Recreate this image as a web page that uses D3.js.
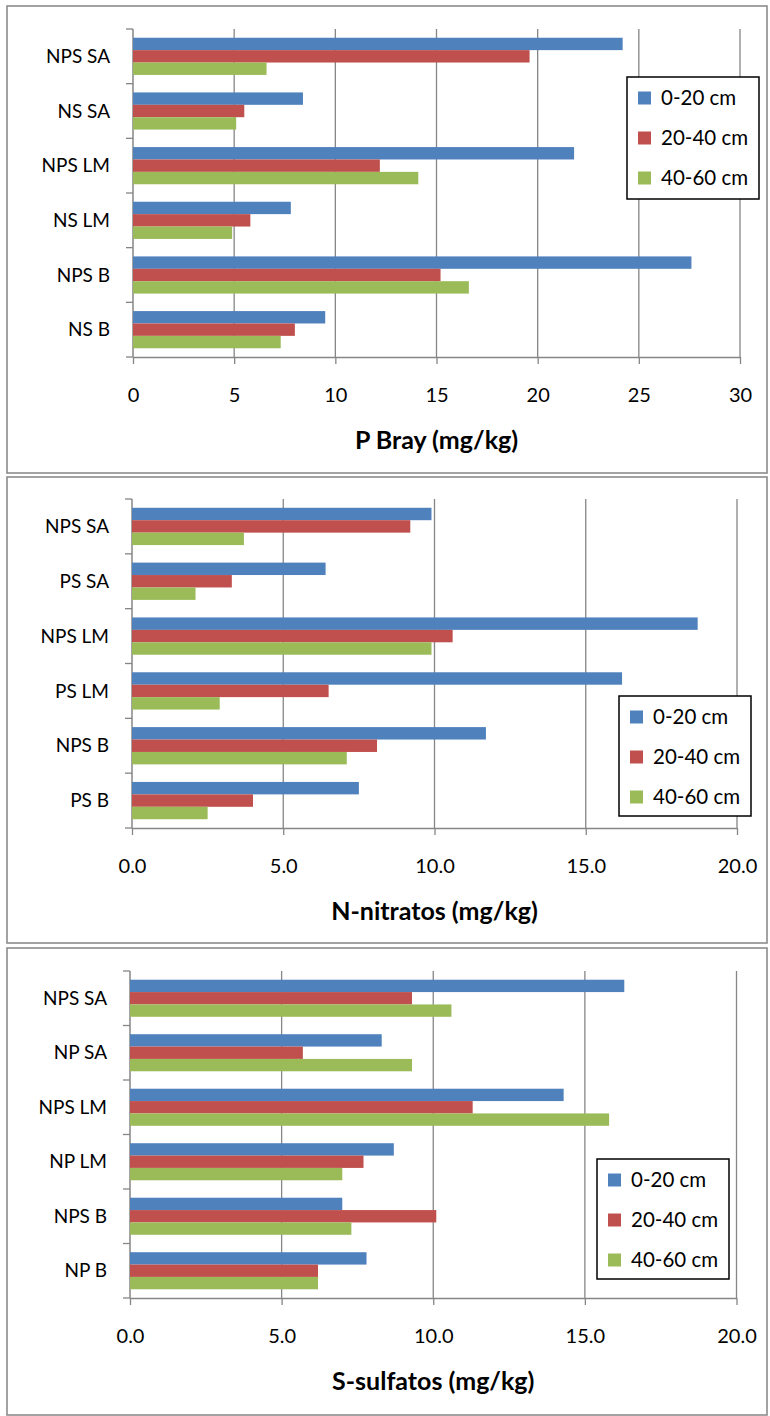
<!DOCTYPE html>
<html><head><meta charset="utf-8">
<script src="https://cdn.jsdelivr.net/npm/d3@7"></script>
<style>
html,body{margin:0;padding:0;background:#fff;}
svg text{font-family:Lato,"Open Sans",sans-serif;fill:#000;}
</style></head>
<body>
<svg id="chart" width="770" height="1416"></svg>
<script>
// ---- data (top-to-bottom category order) ----
const seriesNames = ["0-20 cm", "20-40 cm", "40-60 cm"];
const seriesColors = ["#4F81BD", "#C0504D", "#9BBB59"];

const pCategories = ["NPS SA", "NS SA", "NPS LM", "NS LM", "NPS B", "NS B"];
const p0_20  = [24.2, 8.4, 21.8, 7.8, 27.6, 9.5];
const p20_40 = [19.6, 5.5, 12.2, 5.8, 15.2, 8.0];
const p40_60 = [6.6, 5.1, 14.1, 4.9, 16.6, 7.3];
const pTicks = [0, 5, 10, 15, 20, 25, 30];
const pTitle = "P Bray (mg/kg)";

const nCategories = ["NPS SA", "PS SA", "NPS LM", "PS LM", "NPS B", "PS B"];
const n0_20  = [9.9, 6.4, 18.7, 16.2, 11.7, 7.5];
const n20_40 = [9.2, 3.3, 10.6, 6.5, 8.1, 4.0];
const n40_60 = [3.7, 2.1, 9.9, 2.9, 7.1, 2.5];
const nTicks = [0, 5, 10, 15, 20];
const nTitle = "N-nitratos (mg/kg)";

const sCategories = ["NPS SA", "NP SA", "NPS LM", "NP LM", "NPS B", "NP B"];
const s0_20  = [16.3, 8.3, 14.3, 8.7, 7.0, 7.8];
const s20_40 = [9.3, 5.7, 11.3, 7.7, 10.1, 6.2];
const s40_60 = [10.6, 9.3, 15.8, 7.0, 7.3, 6.2];
const sTicks = [0, 5, 10, 15, 20];
const sTitle = "S-sulfatos (mg/kg)";

// ---- drawing ----
const svg = d3.select("#chart");
const gridColor = "#868686";

function drawPanel(cfg) {
  const g = svg.append("g");
  g.append("rect").attr("x", cfg.box[0]).attr("y", cfg.box[1])
    .attr("width", cfg.box[2]).attr("height", cfg.box[3])
    .attr("fill", "#fff").attr("stroke", "#8c8c8c").attr("stroke-width", 1.6);

  const x = d3.scaleLinear().domain([cfg.ticks[0], cfg.ticks[cfg.ticks.length - 1]])
    .range([cfg.plot[0], cfg.plot[1]]);
  const y = d3.scaleBand().domain(cfg.categories).range([cfg.plot[2], cfg.plot[3]])
    .paddingInner(0.32).paddingOuter(0.16);
  const inner = d3.scaleBand().domain(d3.range(cfg.values.length)).range([0, y.bandwidth()]);

  g.append("g").selectAll("line").data(cfg.ticks.slice(1)).join("line")
    .attr("x1", d => x(d)).attr("x2", d => x(d))
    .attr("y1", cfg.plot[2]).attr("y2", cfg.plot[3])
    .attr("stroke", gridColor).attr("stroke-width", 1.3);

  const xAxis = d3.axisBottom(x).tickValues(cfg.ticks).tickSize(7).tickSizeOuter(0)
    .tickFormat(cfg.fmt);
  const xa = g.append("g").attr("transform", `translate(0,${cfg.plot[3]})`).call(xAxis);
  xa.select(".domain").attr("stroke", gridColor).attr("stroke-width", 1.5);
  xa.selectAll(".tick line").attr("stroke", gridColor).attr("stroke-width", 1.3);
  xa.selectAll(".tick text").attr("y", 38).attr("dy", "0.35em")
    .style("font-size", "20px").style("font-family", "Lato, sans-serif");

  const bounds = d3.range(cfg.categories.length + 1).map(i =>
    cfg.plot[2] + i * (cfg.plot[3] - cfg.plot[2]) / cfg.categories.length);
  g.append("line").attr("x1", cfg.plot[0]).attr("x2", cfg.plot[0])
    .attr("y1", cfg.plot[2]).attr("y2", cfg.plot[3])
    .attr("stroke", gridColor).attr("stroke-width", 1.5);
  g.append("g").selectAll("line").data(bounds).join("line")
    .attr("x1", cfg.plot[0] - 7).attr("x2", cfg.plot[0])
    .attr("y1", d => d).attr("y2", d => d)
    .attr("stroke", gridColor).attr("stroke-width", 1.3);
  g.append("g").selectAll("text").data(cfg.categories).join("text")
    .attr("x", cfg.plot[0] - 23).attr("y", d => y(d) + y.bandwidth() / 2)
    .attr("dy", "0.35em").attr("text-anchor", "end")
    .style("font-size", "19px").text(d => d);

  cfg.values.forEach((arr, si) => {
    g.append("g").selectAll("rect").data(arr).join("rect")
      .attr("x", x(0)).attr("y", (d, i) => y(cfg.categories[i]) + inner(si))
      .attr("width", d => x(d) - x(0)).attr("height", inner.bandwidth())
      .attr("fill", seriesColors[si]);
  });

  const L = cfg.legend;
  const lg = g.append("g");
  lg.append("rect").attr("x", L[0]).attr("y", L[1]).attr("width", L[2]).attr("height", L[3])
    .attr("fill", "#fff").attr("stroke", "#000").attr("stroke-width", 1.5);
  seriesNames.forEach((nm, i) => {
    const cy = L[1] + 21 + i * 40;
    lg.append("rect").attr("x", L[0] + 11).attr("y", cy - 6.5).attr("width", 13).attr("height", 13)
      .attr("fill", seriesColors[i]);
    lg.append("text").attr("x", L[0] + 34).attr("y", cy).attr("dy", "0.35em")
      .style("font-size", "20.5px").text(nm);
  });

  g.append("text").attr("x", (cfg.plot[0] + cfg.plot[1]) / 2).attr("y", cfg.plot[3] + 83)
    .attr("dy", "0.35em").attr("text-anchor", "middle")
    .style("font-size", "25px").style("font-weight", "bold").text(cfg.title);
}

drawPanel({
  box: [7, 6, 760, 467], plot: [133, 740, 29, 357],
  categories: pCategories, values: [p0_20, p20_40, p40_60], ticks: pTicks,
  fmt: d3.format("d"), legend: [627, 77, 132, 122], title: pTitle
});
drawPanel({
  box: [7, 477, 760, 466], plot: [132, 737, 499, 828],
  categories: nCategories, values: [n0_20, n20_40, n40_60], ticks: nTicks,
  fmt: d3.format(".1f"), legend: [619, 696, 132, 120], title: nTitle
});
drawPanel({
  box: [7, 948, 760, 467], plot: [130, 736.5, 971, 1298],
  categories: sCategories, values: [s0_20, s20_40, s40_60], ticks: sTicks,
  fmt: d3.format(".1f"), legend: [597, 1159, 132, 120], title: sTitle
});
</script>
</body></html>
